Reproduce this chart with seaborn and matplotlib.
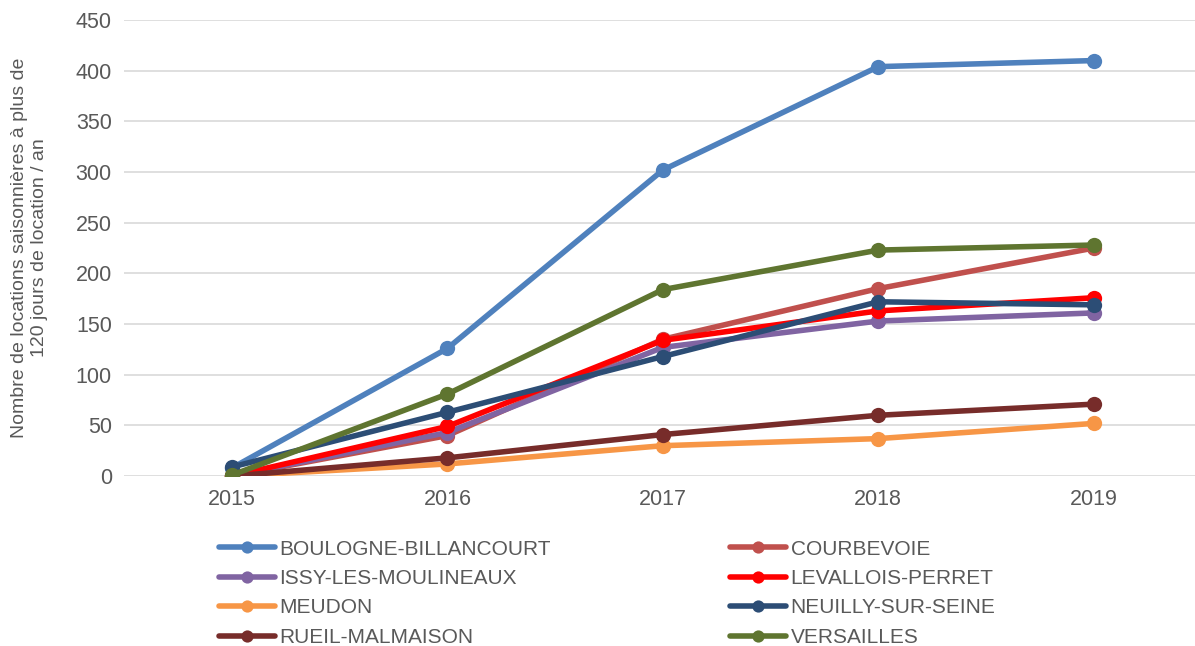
import pandas as pd
import seaborn as sns
import matplotlib.pyplot as plt

years = [2015, 2016, 2017, 2018, 2019]
communes = ["BOULOGNE-BILLANCOURT", "COURBEVOIE", "ISSY-LES-MOULINEAUX", "LEVALLOIS-PERRET",
            "MEUDON", "NEUILLY-SUR-SEINE", "RUEIL-MALMAISON", "VERSAILLES"]

boulogne = [8, 126, 302, 404, 410]
courbevoie = [0, 40, 135, 185, 225]
issy = [0, 43, 127, 153, 161]
levallois = [0, 49, 134, 163, 176]
meudon = [0, 12, 30, 37, 52]
neuilly = [9, 63, 118, 172, 169]
rueil = [0, 18, 41, 60, 71]
versailles = [1, 81, 184, 223, 228]

colors = ["#4F81BD", "#C0504D", "#8064A2", "#FF0000",
          "#F79646", "#2C4D75", "#772C2A", "#5F7530"]

series = [boulogne, courbevoie, issy, levallois, meudon, neuilly, rueil, versailles]
rows = []
for name, vals in zip(communes, series):
    for i, v in enumerate(vals):
        rows.append({"commune": name, "pos": i, "value": v})
df = pd.DataFrame(rows)

sns.set_style("white")
plt.rcParams['font.family'] = ['Liberation Sans', 'DejaVu Sans']

fig = plt.figure(figsize=(11.95, 6.46), dpi=100)
ax = fig.add_axes([0.104, 0.263, 0.896, 0.706])

sns.lineplot(data=df, x="pos", y="value", hue="commune", hue_order=communes,
             palette=colors, marker="o", markersize=11, markeredgewidth=0,
             linewidth=4, ax=ax, legend=False)

ax.set_xlim(-0.5, 4.47)
ax.set_ylim(0, 450)
ax.set_xticks(range(len(years)))
ax.set_xticklabels([str(y) for y in years])
ax.set_yticks(range(0, 451, 50))
ax.tick_params(axis="both", length=0, labelsize=15.5, labelcolor="#595959", pad=9)
ax.grid(axis="y", color="#D9D9D9", linewidth=1.2)
ax.set_axisbelow(True)
for s in ax.spines.values():
    s.set_visible(False)
ax.set_xlabel("")
ax.set_ylabel("Nombre de locations saisonnières à plus de\n120 jours de location / an",
              fontsize=14, color="#595959", labelpad=20)

# legend, row-wise like the original
handles = ax.get_lines()[:len(communes)]
order = [0, 2, 4, 6, 1, 3, 5, 7]
leg = ax.legend([handles[i] for i in order], [communes[i] for i in order],
                ncol=2, frameon=False, loc="upper left",
                bbox_to_anchor=(0.071, -0.098), fontsize=15,
                handlelength=2.7, handletextpad=0.2, columnspacing=8.6,
                labelspacing=0.5, markerscale=0.8)
for t in leg.get_texts():
    t.set_color("#595959")

fig.savefig("out.png", dpi=100)
